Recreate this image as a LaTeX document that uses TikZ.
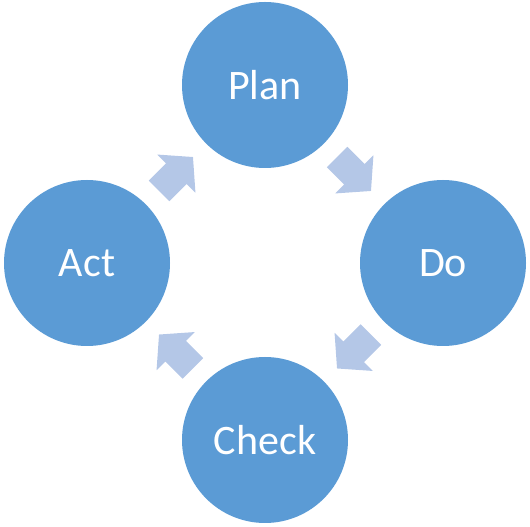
\documentclass[tikz,border=0pt]{standalone}
\usepackage{fontspec}
\setmainfont{Carlito}
\usepackage{tikz}
\usetikzlibrary{calc}
\definecolor{pdcaBlue}{HTML}{5B9BD5}
\definecolor{pdcaLight}{HTML}{B4C7E7}

\tikzset{
  stage/.style={circle,fill=pdcaBlue,minimum size=166pt,inner sep=0pt,
                text=white,font=\fontsize{42}{50}\selectfont},
  cyclearrow/.pic={
    \fill[pdcaLight] (-24pt,-14.5pt) -- (0.5pt,-14.5pt) -- (0.5pt,-27pt) -- (24pt,0pt)
      -- (0.5pt,27pt) -- (0.5pt,14.5pt) -- (-24pt,14.5pt) -- cycle;
  }
}

\begin{document}
\begin{tikzpicture}[x=1pt,y=1pt]
  \useasboundingbox (0,0) rectangle (530,527);
  \node[stage] (plan)  at (265,442) {Plan};
  \node[stage] (do)    at (443,264) {Do};
  \node[stage] (check) at (265,87)  {Check};
  \node[stage] (act)   at (87,264)  {Act};
  % arrows between the stages
  \pic[rotate=-45]  at ($(plan)!0.5!(do)$)   {cyclearrow};
  \pic[rotate=-135] at ($(do)!0.5!(check)$)  {cyclearrow};
  \pic[rotate=135]  at ($(check)!0.5!(act)$) {cyclearrow};
  \pic[rotate=45]   at ($(act)!0.5!(plan)$)  {cyclearrow};
\end{tikzpicture}
\end{document}
